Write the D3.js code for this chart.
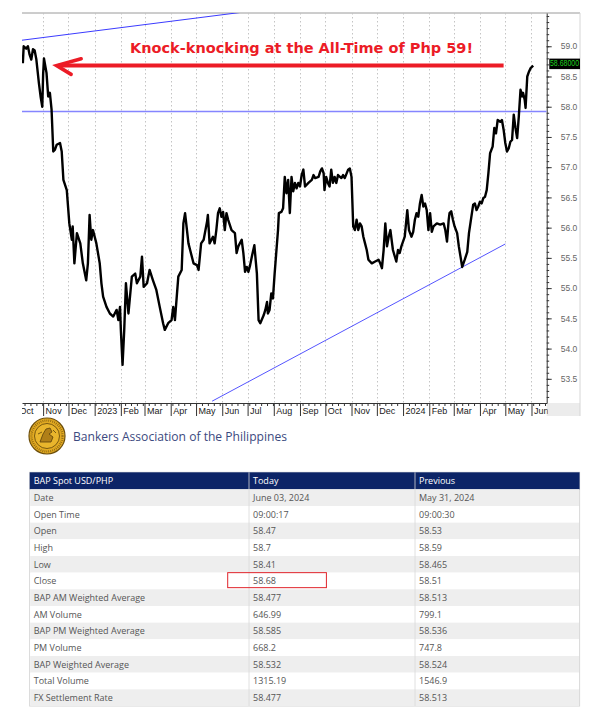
<!DOCTYPE html>
<html>
<head>
<meta charset="utf-8">
<script src="https://cdn.jsdelivr.net/npm/d3@7"></script>
<style>
  body { margin: 0; background: #fff; }
  svg { display: block; }
</style>
</head>
<body>
<svg id="chart" width="594" height="728"></svg>
<script>
// USD/PHP daily close
var dates = [
  "2022-10-08","2022-10-09","2022-10-12","2022-10-14","2022-10-16","2022-10-18","2022-10-20","2022-10-22","2022-10-24","2022-10-27",
  "2022-10-29","2022-10-31","2022-11-01","2022-11-02","2022-11-05","2022-11-07","2022-11-09","2022-11-11","2022-11-13","2022-11-15",
  "2022-11-17","2022-11-21","2022-11-23","2022-11-25","2022-11-29","2022-12-02","2022-12-05","2022-12-06","2022-12-08","2022-12-11",
  "2022-12-15","2022-12-18","2022-12-22","2022-12-24","2022-12-26","2022-12-28","2022-12-30","2023-01-03","2023-01-07","2023-01-09",
  "2023-01-11","2023-01-15","2023-01-19","2023-01-23","2023-01-27","2023-01-29","2023-01-31","2023-02-01","2023-02-03","2023-02-05",
  "2023-02-07","2023-02-10","2023-02-14","2023-02-18","2023-02-20","2023-02-24","2023-02-26","2023-02-28","2023-03-04","2023-03-07",
  "2023-03-11","2023-03-15","2023-03-19","2023-03-23","2023-03-25","2023-03-29","2023-04-02","2023-04-04","2023-04-06","2023-04-10",
  "2023-04-14","2023-04-16","2023-04-18","2023-04-22","2023-04-24","2023-04-28","2023-05-02","2023-05-04","2023-05-07","2023-05-10",
  "2023-05-14","2023-05-15","2023-05-17","2023-05-21","2023-05-23","2023-05-25","2023-05-27","2023-05-29","2023-05-31","2023-06-02",
  "2023-06-04","2023-06-06","2023-06-08","2023-06-12","2023-06-16","2023-06-18","2023-06-20","2023-06-24","2023-06-26","2023-06-28",
  "2023-06-30","2023-07-02","2023-07-04","2023-07-06","2023-07-09","2023-07-12","2023-07-14","2023-07-16","2023-07-20","2023-07-22",
  "2023-07-24","2023-07-25","2023-07-27","2023-07-29","2023-07-31","2023-08-02","2023-08-06","2023-08-07","2023-08-10","2023-08-12",
  "2023-08-14","2023-08-16","2023-08-18","2023-08-20","2023-08-22","2023-08-24","2023-08-26","2023-08-28","2023-08-30","2023-09-01",
  "2023-09-03","2023-09-05","2023-09-07","2023-09-11","2023-09-15","2023-09-17","2023-09-19","2023-09-23","2023-09-25","2023-09-27",
  "2023-09-29","2023-09-30","2023-10-02","2023-10-04","2023-10-06","2023-10-08","2023-10-10","2023-10-12","2023-10-14","2023-10-16",
  "2023-10-20","2023-10-22","2023-10-24","2023-10-28","2023-10-30","2023-11-01","2023-11-03","2023-11-05","2023-11-07","2023-11-09",
  "2023-11-11","2023-11-13","2023-11-15","2023-11-17","2023-11-19","2023-11-21","2023-11-25","2023-11-29","2023-12-03","2023-12-05",
  "2023-12-07","2023-12-09","2023-12-11","2023-12-13","2023-12-15","2023-12-17","2023-12-20","2023-12-24","2023-12-26","2023-12-28",
  "2023-12-30","2024-01-03","2024-01-06","2024-01-08","2024-01-11","2024-01-13","2024-01-15","2024-01-17","2024-01-19","2024-01-21",
  "2024-01-23","2024-01-25","2024-01-27","2024-01-29","2024-01-31","2024-02-02","2024-02-04","2024-02-06","2024-02-10","2024-02-14",
  "2024-02-18","2024-02-20","2024-02-22","2024-02-24","2024-02-25","2024-02-27","2024-02-29","2024-03-02","2024-03-05","2024-03-07",
  "2024-03-09","2024-03-11","2024-03-14","2024-03-17","2024-03-19","2024-03-21","2024-03-24","2024-03-26","2024-03-28","2024-03-30",
  "2024-04-01","2024-04-03","2024-04-05","2024-04-07","2024-04-09","2024-04-11","2024-04-13","2024-04-16","2024-04-18","2024-04-20",
  "2024-04-22","2024-04-25","2024-04-27","2024-04-29","2024-05-01","2024-05-03","2024-05-05","2024-05-07","2024-05-09","2024-05-11",
  "2024-05-13","2024-05-15","2024-05-17","2024-05-19","2024-05-21","2024-05-22","2024-05-24","2024-05-25","2024-05-27","2024-05-29",
  "2024-05-31","2024-06-03"
];
var closes = [
  58.72,59.00,58.96,59.00,58.86,58.78,58.95,58.93,58.78,58.39,
  58.17,58.00,58.53,58.80,58.56,58.17,58.23,57.95,57.26,57.29,
  57.37,57.40,57.26,56.79,56.62,56.07,55.80,56.02,55.41,55.91,
  55.74,55.41,55.13,55.41,56.21,55.80,55.96,55.74,55.41,55.08,
  54.86,54.69,54.58,54.53,54.64,54.47,54.69,54.31,53.73,54.31,
  55.08,54.58,55.19,55.24,55.08,55.19,55.52,55.02,55.08,55.30,
  55.13,54.97,54.69,54.42,54.31,54.42,54.47,54.69,54.47,55.19,
  55.30,56.07,56.24,55.74,55.63,55.41,55.38,55.30,55.74,55.80,
  56.10,56.21,55.74,55.85,55.74,55.96,56.24,56.32,56.18,56.26,
  55.96,56.24,56.13,55.96,55.91,55.58,55.69,55.80,55.58,55.27,
  55.35,55.27,55.38,55.52,55.71,55.24,54.47,54.42,54.55,54.64,
  54.77,54.58,54.64,54.91,54.83,55.24,55.96,56.24,56.26,56.32,
  56.84,56.57,56.79,56.24,56.84,56.60,56.74,56.65,56.74,56.68,
  56.87,56.96,56.68,56.74,56.79,56.87,56.82,56.84,56.93,56.98,
  56.90,56.62,56.84,56.74,56.68,56.96,56.74,56.84,56.74,56.87,
  56.82,56.87,56.82,56.96,56.98,56.84,56.02,55.96,56.13,55.96,
  56.07,56.02,55.85,55.74,55.63,55.47,55.41,55.44,55.47,55.41,
  55.33,55.63,56.07,55.69,55.85,55.96,55.63,55.44,55.63,55.58,
  55.69,55.85,56.29,55.96,55.85,55.93,56.13,56.24,56.18,56.40,
  56.54,56.35,56.40,56.29,55.96,56.24,55.93,56.02,56.07,56.05,
  56.07,55.96,55.77,56.13,56.24,56.27,56.13,56.02,55.91,55.69,
  55.52,55.35,55.47,55.60,55.91,56.10,56.38,56.40,56.29,56.35,
  56.43,56.40,56.49,56.51,56.62,56.90,57.23,57.34,57.65,57.56,
  57.78,57.75,57.78,57.62,57.40,57.26,57.31,57.42,57.45,57.87,
  57.65,57.48,57.84,58.28,58.17,58.23,58.11,57.98,58.50,58.58,
  58.64,58.68
];

// drawn trend lines and levels
var upperTrend = [["2022-10-07", 59.10], ["2023-06-23", 59.56]];
var lowerTrend = [["2023-05-20", 53.13], ["2024-05-01", 55.73]];
var breakoutLevel = 57.92;
var lastClose = 58.68;
var arrowDates = ["2024-04-29", "2022-11-17"];
var note = "Knock-knocking at the All-Time of Php 59!";

// BAP table
var tableHeaders = ["BAP Spot USD/PHP", "Today", "Previous"];
var rowLabels = ["Date", "Open Time", "Open", "High", "Low", "Close", "BAP AM Weighted Average",
  "AM Volume", "BAP PM Weighted Average", "PM Volume", "BAP Weighted Average", "Total Volume", "FX Settlement Rate"];
var todayValues = ["June 03, 2024", "09:00:17", "58.47", "58.7", "58.41", "58.68", "58.477",
  "646.99", "58.585", "668.2", "58.532", "1315.19", "58.477"];
var previousValues = ["May 31, 2024", "09:00:30", "58.53", "58.59", "58.465", "58.51", "58.513",
  "799.1", "58.536", "747.8", "58.524", "1546.9", "58.513"];
var highlightRow = "Close";

var parse = d3.timeParse("%Y-%m-%d");
var series = dates.map(function(d, i) { return {date: parse(d), value: closes[i]}; });

var svg = d3.select("#chart");
svg.append("rect").attr("width", 594).attr("height", 728).attr("fill", "#fff");

var plot = {left: 22, right: 546.7, top: 13, bottom: 403};

var x = d3.scaleTime()
  .domain([parse("2022-10-07"), parse("2024-06-19")])
  .range([plot.left, plot.right]);
var y = d3.scaleLinear()
  .domain([53.1, 59.55])
  .range([plot.bottom, plot.top]);

var defs = svg.append("defs");
defs.append("clipPath").attr("id", "plotClip").append("rect")
  .attr("x", plot.left).attr("y", plot.top)
  .attr("width", plot.right - plot.left).attr("height", plot.bottom - plot.top);
defs.append("clipPath").attr("id", "axisClip").append("rect")
  .attr("x", plot.left).attr("y", plot.bottom - 2)
  .attr("width", plot.right - plot.left + 1).attr("height", 20);

// frame
svg.append("rect")
  .attr("x", plot.right).attr("y", plot.bottom)
  .attr("width", 580 - plot.right).attr("height", 13)
  .attr("fill", "#ececec");
svg.append("line")
  .attr("x1", plot.left).attr("x2", 580).attr("y1", plot.top).attr("y2", plot.top)
  .attr("stroke", "#9a9a9a").attr("stroke-width", 1);
svg.append("line")
  .attr("x1", 580).attr("x2", 580).attr("y1", plot.top).attr("y2", 416)
  .attr("stroke", "#d6d6d6").attr("stroke-width", 1);

// month grid
var months = d3.timeMonth.range(parse("2022-10-01"), parse("2024-06-02"));
svg.append("g").attr("clip-path", "url(#plotClip)")
  .selectAll("line").data(months).join("line")
  .attr("x1", function(d) { return Math.round(x(d)) + 0.5; })
  .attr("x2", function(d) { return Math.round(x(d)) + 0.5; })
  .attr("y1", plot.top).attr("y2", plot.bottom)
  .attr("stroke", "#c4c4c4").attr("stroke-dasharray", "1.5,2.5");

// bottom axis: weekly minor ticks, monthly separators with labels
var fmtMonth = function(d) { return d.getMonth() === 0 ? d3.timeFormat("%Y")(d) : d3.timeFormat("%b")(d); };
var xAxisG = svg.append("g").attr("clip-path", "url(#axisClip)");
xAxisG.append("g")
  .attr("transform", "translate(0," + plot.bottom + ")")
  .call(d3.axisBottom(x).tickValues(d3.timeMonday.range(parse("2022-10-01"), parse("2024-06-19")))
    .tickSize(3).tickSizeOuter(0).tickFormat(""))
  .call(function(g) { g.select(".domain").remove(); })
  .selectAll("line").attr("stroke", "#333");
xAxisG.append("g")
  .attr("transform", "translate(0," + plot.bottom + ")")
  .call(d3.axisBottom(x).tickValues(months).tickSize(13).tickSizeOuter(0).tickFormat(fmtMonth))
  .call(function(g) {
    g.select(".domain").attr("stroke", "#333");
    g.selectAll(".tick line").attr("stroke", "#333");
    g.selectAll(".tick text")
      .attr("text-anchor", "start").attr("x", 2).attr("y", 5)
      .attr("fill", "#222")
      .style("font", "9px 'Liberation Sans', Arial, sans-serif");
  });

// right axis
var axisFont = "8.5px 'Liberation Sans', Arial, sans-serif";
svg.append("g")
  .attr("transform", "translate(" + plot.right + ",0)")
  .call(d3.axisRight(y).tickValues(d3.range(532, 596, 1).map(function(v) { return v / 10; }))
    .tickSize(2.5).tickSizeOuter(0).tickFormat(""))
  .call(function(g) {
    g.select(".domain").attr("stroke", "#333");
    g.selectAll(".tick line").attr("stroke", "#333");
  });
svg.append("g")
  .attr("transform", "translate(" + plot.right + ",0)")
  .call(d3.axisRight(y).tickValues(d3.range(535, 591, 5).map(function(v) { return v / 10; }))
    .tickSize(5).tickSizeOuter(0).tickPadding(9).tickFormat(d3.format(".1f")))
  .call(function(g) {
    g.select(".domain").remove();
    g.selectAll(".tick line").attr("stroke", "#333");
    g.selectAll(".tick text").attr("fill", "#666").style("font", axisFont);
  });

// trend lines
var lineXY = d3.line()
  .x(function(d) { return x(parse(d[0])); })
  .y(function(d) { return y(d[1]); });
var overlay = svg.append("g").attr("clip-path", "url(#plotClip)");
overlay.append("path").attr("d", lineXY(upperTrend))
  .attr("fill", "none").attr("stroke", "#3b3bff").attr("stroke-width", 1);
overlay.append("path").attr("d", lineXY(lowerTrend))
  .attr("fill", "none").attr("stroke", "#5555ff").attr("stroke-width", 1);
overlay.append("line")
  .attr("x1", plot.left).attr("x2", plot.right)
  .attr("y1", y(breakoutLevel)).attr("y2", y(breakoutLevel))
  .attr("stroke", "#8585ff").attr("stroke-width", 1.5);

// price line
var priceLine = d3.line()
  .x(function(d) { return x(d.date); })
  .y(function(d) { return y(d.value); });
overlay.append("path").datum(series)
  .attr("d", priceLine)
  .attr("fill", "none")
  .attr("stroke", "#000")
  .attr("stroke-width", 2.4)
  .attr("stroke-linejoin", "round");

// last price tag
var tagY = y(lastClose);
svg.append("rect")
  .attr("x", 549.3).attr("y", tagY - 7).attr("width", 30.7).attr("height", 10.5)
  .attr("fill", "#000");
svg.append("text")
  .attr("x", 550).attr("y", tagY + 0.8)
  .attr("textLength", 29).attr("lengthAdjust", "spacingAndGlyphs")
  .attr("fill", "#1fd01f")
  .style("font", "8.5px 'Liberation Sans', Arial, sans-serif")
  .text(d3.format(".5f")(lastClose));

// annotation arrow + note
var red = "#ec1c26";
var ax0 = x(parse(arrowDates[0])), ax1 = x(parse(arrowDates[1]));
svg.append("line")
  .attr("x1", ax0).attr("x2", ax1 + 2).attr("y1", tagY).attr("y2", tagY)
  .attr("stroke", red).attr("stroke-width", 4);
svg.append("path")
  .attr("d", "M" + (ax1 + 24.5) + "," + (tagY - 6.8) + "L" + ax1 + "," + tagY + "L" + (ax1 + 14.5) + "," + (tagY + 8.8))
  .attr("fill", "none").attr("stroke", red).attr("stroke-width", 3.6)
  .attr("stroke-linejoin", "miter").attr("stroke-linecap", "round");
svg.append("text")
  .attr("x", 130).attr("y", 53)
  .attr("textLength", 343).attr("lengthAdjust", "spacingAndGlyphs")
  .attr("fill", red)
  .style("font", "bold 14.5px 'DejaVu Sans', Verdana, sans-serif")
  .text(note);

// BAP logo + name
var logo = svg.append("g").attr("transform", "translate(47,436)");
logo.append("circle").attr("r", 18).attr("fill", "#e2aa22").attr("stroke", "#6d4f0c").attr("stroke-width", 1.2);
logo.append("circle").attr("r", 12.5).attr("fill", "#e9b52c").attr("stroke", "#6d4f0c").attr("stroke-width", 0.9);
logo.append("circle").attr("r", 15.5).attr("fill", "none").attr("stroke", "#8a6512").attr("stroke-width", 2.2)
  .attr("stroke-dasharray", "0.8,1.2");
logo.append("path")
  .attr("d", "M-7,6 L-4,-2 L-1,-7 L3,-8 L5,-4 L2,-2 L6,1 L4,6 Z M-9,-2 L-5,-4 M6,-6 L9,-3")
  .attr("fill", "#b07f18").attr("stroke", "#5a400a").attr("stroke-width", 0.8);
svg.append("text")
  .attr("x", 73).attr("y", 441)
  .attr("fill", "#3c4a80")
  .style("font", "12.1px 'Open Sans', sans-serif")
  .text("Bankers Association of the Philippines");

// table
var colX = [29.7, 249, 415, 579.6];
var headTop = 472.3, headH = 17, rowH = 16.67;
var bodyTop = headTop + headH;
var cellFont = "9px 'Open Sans', sans-serif";
var table = svg.append("g");

table.append("rect")
  .attr("x", colX[0]).attr("y", headTop)
  .attr("width", colX[3] - colX[0]).attr("height", headH + rowH * rowLabels.length)
  .attr("fill", "#fff").attr("stroke", "#d4d4d4");
table.append("rect")
  .attr("x", colX[0]).attr("y", headTop).attr("width", colX[3] - colX[0]).attr("height", headH)
  .attr("fill", "#0c2467");
table.selectAll(".hd").data(tableHeaders).join("text")
  .attr("class", "hd")
  .attr("x", function(d, i) { return colX[i] + 4; })
  .attr("y", headTop + headH / 2 + 3.3)
  .attr("fill", "#fff")
  .style("font", cellFont)
  .text(function(d) { return d; });

var rows = table.selectAll(".row").data(rowLabels).join("g")
  .attr("class", "row")
  .attr("transform", function(d, i) { return "translate(0," + (bodyTop + i * rowH) + ")"; });
rows.append("rect")
  .attr("x", colX[0] + 0.5).attr("width", colX[3] - colX[0] - 1).attr("height", rowH)
  .attr("fill", function(d, i) { return i % 2 === 0 ? "#eeeeee" : "#ffffff"; });
rows.each(function(label, i) {
  var cells = [label, todayValues[i], previousValues[i]];
  d3.select(this).selectAll("text").data(cells).join("text")
    .attr("x", function(d, j) { return colX[j] + 4; })
    .attr("y", rowH / 2 + 3.3)
    .attr("fill", "#555")
    .style("font", cellFont)
    .text(function(d) { return d; });
});
table.selectAll(".sep").data([colX[1], colX[2]]).join("line")
  .attr("class", "sep")
  .attr("x1", function(d) { return d; }).attr("x2", function(d) { return d; })
  .attr("y1", headTop).attr("y2", bodyTop + rowH * rowLabels.length)
  .attr("stroke", "#d8d8d8").attr("stroke-width", 0.8);

// red box around today's close
var hi = rowLabels.indexOf(highlightRow);
table.append("rect")
  .attr("x", 227.7).attr("y", bodyTop + hi * rowH)
  .attr("width", 98.7).attr("height", 15)
  .attr("fill", "none").attr("stroke", "#e0242b").attr("stroke-width", 1);
</script>
</body>
</html>
